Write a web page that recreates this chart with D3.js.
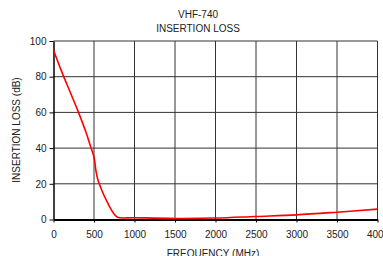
<!DOCTYPE html>
<html>
<head>
<meta charset="utf-8">
<script src="https://cdn.jsdelivr.net/npm/d3@7"></script>
<style>
  body { margin: 0; background: #fff; }
  text { font-family: "Liberation Sans", Arial, sans-serif; fill: #222; }
</style>
</head>
<body>
<svg id="chart" width="383" height="256"></svg>
<script>
// data
var freq = [0, 100, 200, 300, 400, 450, 500, 525, 550, 600, 650, 700, 750, 790, 1000, 1500, 2000, 2500, 3000, 3500, 4000];
var loss = [95, 83, 72, 61, 49, 42, 35, 27, 22, 16, 11, 6.5, 3, 1.2, 1.0, 0.6, 0.8, 1.7, 2.6, 4.1, 5.8];
var xTicks = [0, 500, 1000, 1500, 2000, 2500, 3000, 3500, 4000];
var yTicks = [0, 20, 40, 60, 80, 100];
var titleLines = ['VHF-740', 'INSERTION LOSS'];

var svg = d3.select('#chart');
var x = d3.scaleLinear().domain([0, 4000]).range([53.5, 377.5]);
var y = d3.scaleLinear().domain([0, 100]).range([219.5, 41]);

// grid
svg.append('g').selectAll('line').data(xTicks.slice(1)).join('line')
  .attr('x1', d => x(d)).attr('x2', d => x(d)).attr('y1', y(100)).attr('y2', y(0))
  .style('stroke', '#333').style('stroke-width', 1);
svg.append('g').selectAll('line').data(yTicks.slice(1)).join('line')
  .attr('x1', x(0)).attr('x2', x(4000)).attr('y1', d => y(d)).attr('y2', d => y(d))
  .style('stroke', '#333').style('stroke-width', 1);

// axes
var xAxis = svg.append('g').attr('transform', 'translate(0,' + y(0) + ')')
  .call(d3.axisBottom(x).tickValues(xTicks).tickFormat(d3.format('d')).tickSize(3).tickSizeOuter(0).tickPadding(8));
xAxis.select('.domain').style('stroke', '#000').style('stroke-width', 2);
var yAxis = svg.append('g').attr('transform', 'translate(' + x(0) + ',0)')
  .call(d3.axisLeft(y).tickValues(yTicks).tickSize(4).tickSizeOuter(0).tickPadding(3));
yAxis.select('.domain').style('stroke', '#000').style('stroke-width', 1.5);
svg.selectAll('.tick text').style('font-size', '10px').style('fill', '#222')
  .style('font-family', '"Liberation Sans", Arial, sans-serif');

// curve
var line = d3.line().x((d, i) => x(freq[i])).y(d => y(d)).curve(d3.curveCatmullRom.alpha(0.5));
svg.append('path').datum(loss).attr('d', line)
  .style('fill', 'none').style('stroke', '#f00').style('stroke-width', 1.6);

// title & labels
svg.selectAll('text.title').data(titleLines).join('text').attr('class', 'title')
  .attr('x', 198).attr('y', (d, i) => 18 + i * 13.5).attr('text-anchor', 'middle')
  .style('font-size', '10px').text(d => d);
svg.append('text').attr('x', 213).attr('y', 257).attr('text-anchor', 'middle')
  .style('font-size', '10px').text('FREQUENCY (MHz)');
svg.append('text').attr('transform', 'translate(20,130) rotate(-90)').attr('text-anchor', 'middle')
  .style('font-size', '10px').text('INSERTION LOSS (dB)');
</script>
</body>
</html>
